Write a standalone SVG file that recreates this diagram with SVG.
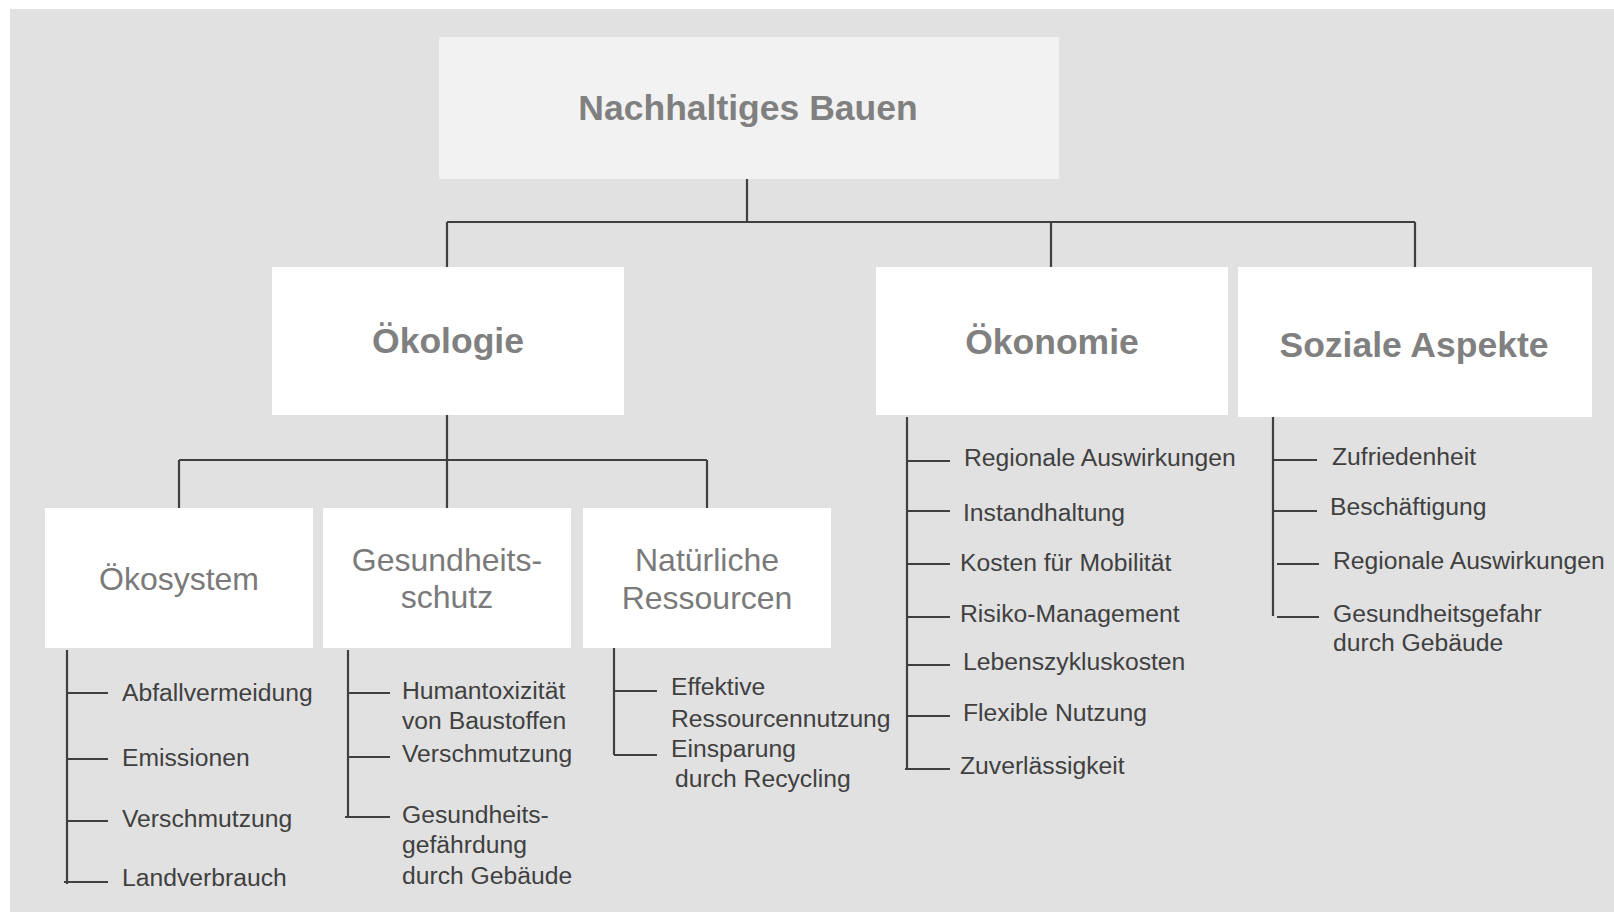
<svg xmlns="http://www.w3.org/2000/svg" width="1614" height="912" viewBox="0 0 1614 912">
<style>
.bg{fill:#e1e1e1}
.box{fill:#ffffff}
.top{fill:#f2f2f2}
.h1{font-family:"Liberation Sans",Arial,sans-serif;font-weight:bold;font-size:35.5px;fill:#808080;text-anchor:middle}
.h2{font-family:"Liberation Sans",Arial,sans-serif;font-size:32px;fill:#7a7a7a;text-anchor:middle}
.leaf{font-family:"Liberation Sans",Arial,sans-serif;font-size:24.7px;fill:#404040}
.ln{stroke:#404040;stroke-width:2.2;fill:none}
</style>
<rect width="1614" height="912" fill="#ffffff"/>
<rect class="bg" x="10" y="9" width="1604" height="903"/>

<g id="connectors" class="ln">
  <path d="M747 179V222M447 222H1415M447 222V268M1051 222V268M1415 222V268"/>
  <path d="M447 415V460M179 460H707M179 460V508M447 460V508M707 460V508"/>
  <path d="M67 650V884M67 693H108M67 759H108M67 821H108M64 882H108"/>
  <path d="M348 650V818M348 693H390M348 757H390M345 817H390"/>
  <path d="M614 647V755M614 691H657M614 755H657"/>
  <path d="M907 417V770M907 461H950M907 511H950M907 564H950M907 617H950M907 665H950M907 716H950M905 769H950"/>
  <path d="M1273 417V616M1273 460H1317M1273 511H1317M1277 564H1319M1277 617H1319"/>
</g>

<g id="node-nachhaltiges-bauen">
  <rect class="top" x="439" y="37" width="620" height="142"/>
  <text class="h1" x="748" y="120">Nachhaltiges Bauen</text>
</g>
<g id="node-oekologie">
  <rect class="box" x="272" y="267" width="352" height="148"/>
  <text class="h1" x="448" y="353">Ökologie</text>
</g>
<g id="node-oekonomie">
  <rect class="box" x="876" y="267" width="352" height="148"/>
  <text class="h1" x="1052" y="354">Ökonomie</text>
</g>
<g id="node-soziale-aspekte">
  <rect class="box" x="1238" y="267" width="354" height="150"/>
  <text class="h1" x="1414" y="357">Soziale Aspekte</text>
</g>

<g id="node-oekosystem">
  <rect class="box" x="45" y="508" width="268" height="140"/>
  <text class="h2" x="179" y="590">Ökosystem</text>
</g>
<g id="node-gesundheitsschutz">
  <rect class="box" x="323" y="508" width="248" height="140"/>
  <text class="h2" x="447" y="571">Gesundheits-</text>
  <text class="h2" x="447" y="608">schutz</text>
</g>
<g id="node-natuerliche-ressourcen">
  <rect class="box" x="583" y="508" width="248" height="140"/>
  <text class="h2" x="707" y="571">Natürliche</text>
  <text class="h2" x="707" y="609">Ressourcen</text>
</g>

<g id="list-oekosystem" class="leaf">
  <text x="122" y="701">Abfallvermeidung</text>
  <text x="122" y="766">Emissionen</text>
  <text x="122" y="827">Verschmutzung</text>
  <text x="122" y="886">Landverbrauch</text>
</g>
<g id="list-gesundheitsschutz" class="leaf">
  <text x="402" y="699">Humantoxizität</text>
  <text x="402" y="729">von Baustoffen</text>
  <text x="402" y="762">Verschmutzung</text>
  <text x="402" y="823">Gesundheits-</text>
  <text x="402" y="853">gefährdung</text>
  <text x="402" y="884">durch Gebäude</text>
</g>
<g id="list-natuerliche-ressourcen" class="leaf">
  <text x="671" y="695">Effektive</text>
  <text x="671" y="727">Ressourcennutzung</text>
  <text x="671" y="757">Einsparung</text>
  <text x="675" y="787">durch Recycling</text>
</g>
<g id="list-oekonomie" class="leaf">
  <text x="964" y="466">Regionale Auswirkungen</text>
  <text x="963" y="521">Instandhaltung</text>
  <text x="960" y="571">Kosten für Mobilität</text>
  <text x="960" y="622">Risiko-Management</text>
  <text x="963" y="670">Lebenszykluskosten</text>
  <text x="963" y="721">Flexible Nutzung</text>
  <text x="960" y="774">Zuverlässigkeit</text>
</g>
<g id="list-soziale-aspekte" class="leaf">
  <text x="1332" y="465">Zufriedenheit</text>
  <text x="1330" y="515">Beschäftigung</text>
  <text x="1333" y="569">Regionale Auswirkungen</text>
  <text x="1333" y="622">Gesundheitsgefahr</text>
  <text x="1333" y="651">durch Gebäude</text>
</g>
</svg>
